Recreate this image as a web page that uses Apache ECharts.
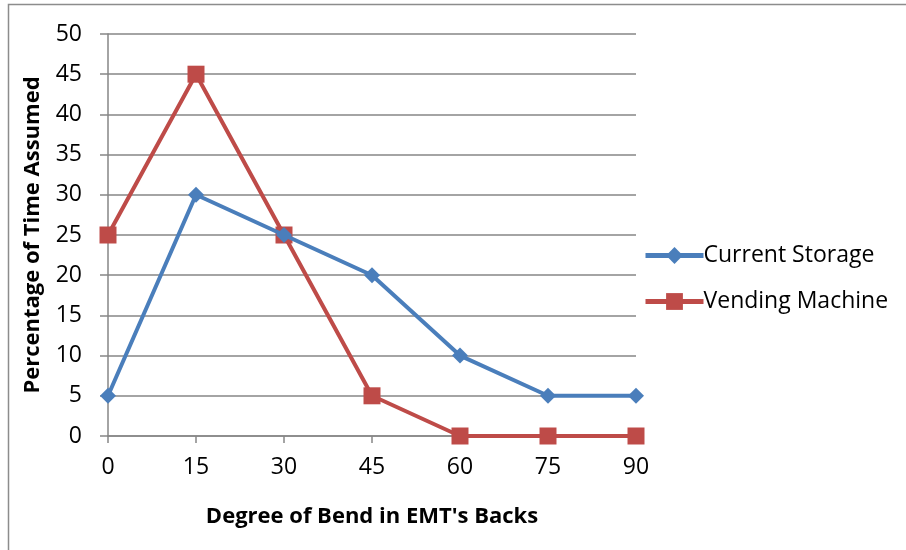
<!DOCTYPE html>
<html>
<head>
<meta charset="utf-8">
<script src="https://cdn.jsdelivr.net/npm/echarts@6/dist/echarts.min.js"></script>
<style>
  html, body { margin: 0; padding: 0; background: #fff; }
  #chart { width: 906px; height: 550px; }
</style>
</head>
<body>
<div id="chart"></div>
<script>
// Degree of bend categories and percentage of time for each storage option
const degrees = ['0', '15', '30', '45', '60', '75', '90'];
const currentStorage = [5, 30, 25, 20, 10, 5, 5];
const vendingMachine = [25, 45, 25, 5, 0, 0, 0];
const seriesNames = ['Current Storage', 'Vending Machine'];

const FONT = '"Open Sans", Lato, sans-serif';
const chart = echarts.init(document.getElementById('chart'));

chart.setOption({
  animation: false,
  backgroundColor: '#fff',
  graphic: [{
    type: 'rect',
    shape: { x: 8.5, y: 4.5, width: 1000, height: 1000 },
    style: { fill: 'none', stroke: '#8c8c8c', lineWidth: 1.5 },
    silent: true
  }],
  grid: { left: 108, right: 270, top: 34, bottom: 114 },
  legend: {
    orient: 'vertical',
    left: 638,
    top: 239,
    itemGap: 23,
    itemWidth: 58,
    itemHeight: 21,
    lineStyle: { width: 5 },
    textStyle: { fontFamily: FONT, fontSize: 23, color: '#000', padding: [0, 0, 0, -5] },
    data: seriesNames
  },
  xAxis: {
    type: 'category',
    data: degrees,
    boundaryGap: false,
    name: "Degree of Bend in EMT's Backs",
    nameLocation: 'middle',
    nameGap: 70,
    nameTextStyle: { fontFamily: FONT, fontSize: 22, fontWeight: 'bold', color: '#000' },
    axisLine: { lineStyle: { color: '#868686', width: 1.5 } },
    axisTick: { show: true, length: 7, lineStyle: { color: '#868686', width: 1.5 } },
    axisLabel: { fontFamily: FONT, fontSize: 23, color: '#000', margin: 20 },
    splitLine: { show: false }
  },
  yAxis: {
    type: 'value',
    min: 0,
    max: 50,
    interval: 5,
    name: 'Percentage of Time Assumed',
    nameLocation: 'middle',
    nameGap: 64,
    nameTextStyle: { fontFamily: FONT, fontSize: 22, fontWeight: 'bold', color: '#000' },
    axisLine: { show: true, lineStyle: { color: '#868686', width: 1.5 } },
    axisTick: { show: true, length: 8, lineStyle: { color: '#868686', width: 1.5 } },
    axisLabel: { fontFamily: FONT, fontSize: 23, color: '#000', margin: 26 },
    splitLine: { lineStyle: { color: '#868686', width: 1.5 } }
  },
  series: [
    {
      name: seriesNames[0],
      type: 'line',
      data: currentStorage,
      symbol: 'diamond',
      symbolSize: 16,
      color: '#4a7ebb',
      lineStyle: { width: 4, color: '#4a7ebb' },
      itemStyle: { color: '#4a7ebb' },
      z: 3
    },
    {
      name: seriesNames[1],
      type: 'line',
      data: vendingMachine,
      symbol: 'rect',
      symbolSize: 17,
      color: '#be4b48',
      lineStyle: { width: 4, color: '#be4b48' },
      itemStyle: { color: '#be4b48' },
      z: 2
    }
  ]
});
</script>
</body>
</html>
